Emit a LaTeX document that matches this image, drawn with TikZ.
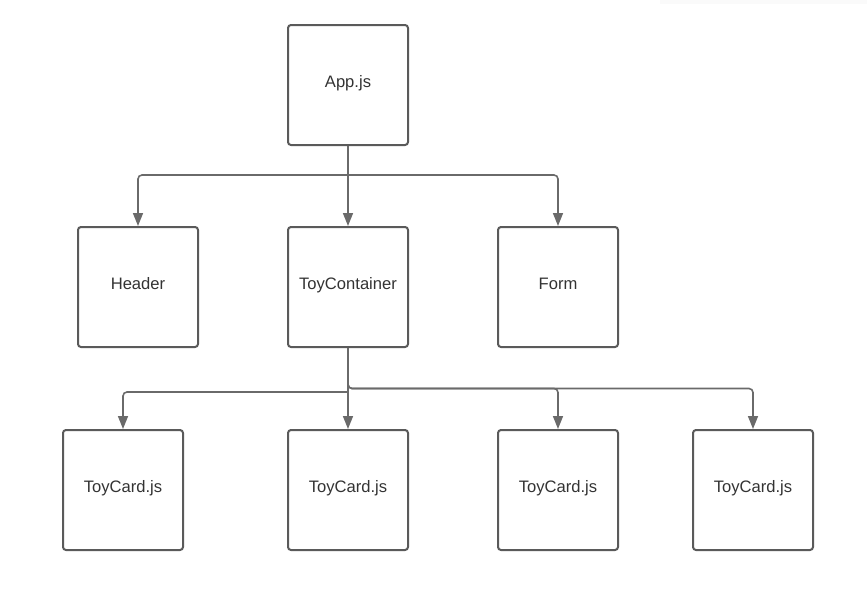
\documentclass[tikz,border=0pt]{standalone}
\usepackage{fontspec}
\setmainfont{Liberation Sans}
\usetikzlibrary{arrows.meta}
\definecolor{boxline}{HTML}{5A5A5A}
\definecolor{connline}{HTML}{6A6A6A}
\definecolor{labeltext}{HTML}{333333}
\tikzset{
  compbox/.style={draw=boxline, line width=2pt, rounded corners=3pt, minimum width=120pt, minimum height=120pt, text height=12pt, text depth=7pt, text=labeltext, font=\fontsize{16.6}{19}\selectfont},
  conn/.style={draw=connline, line width=1.6pt, rounded corners=4pt, -{Triangle[length=13pt,width=10pt]}}
}
\begin{document}
\begin{tikzpicture}[x=1pt,y=-1pt]
	% Fix the page size
	\useasboundingbox (0,0) rectangle (867,589);
	\fill[black!2] (660,0) rectangle (867,4);
	
	% Draw the components
	\node[compbox] (app) at (348,85) {App.js};
	\node[compbox] (header) at (138,287) {Header};
	\node[compbox] (toy) at (348,287) {ToyContainer};
	\node[compbox] (form) at (558,287) {Form};
	\node[compbox] (card1) at (123,490) {ToyCard.js};
	\node[compbox] (card2) at (348,490) {ToyCard.js};
	\node[compbox] (card3) at (558,490) {ToyCard.js};
	\node[compbox] (card4) at (753,490) {ToyCard.js};
	
	% Draw the split points
	\coordinate (splitA) at (348,175);
	\coordinate (splitL) at (348,392);
	\coordinate (splitR) at (348,388.5);
	
	% Draw the links from App.js
	\draw[conn] (app.south) -- (toy.north);
	\draw[conn] (splitA) -| (header.north);
	\draw[conn] (splitA) -| (form.north);
	
	% Draw the links from ToyContainer
	\draw[conn] (toy.south) -- (card2.north);
	\draw[conn] (splitL) -| (card1.north);
	\draw[conn] (toy.south) |- (card4.north |- splitR) -- (card4.north);
	\draw[conn] (toy.south) |- (card3.north |- splitR) -- (card3.north);
\end{tikzpicture}
\end{document}
